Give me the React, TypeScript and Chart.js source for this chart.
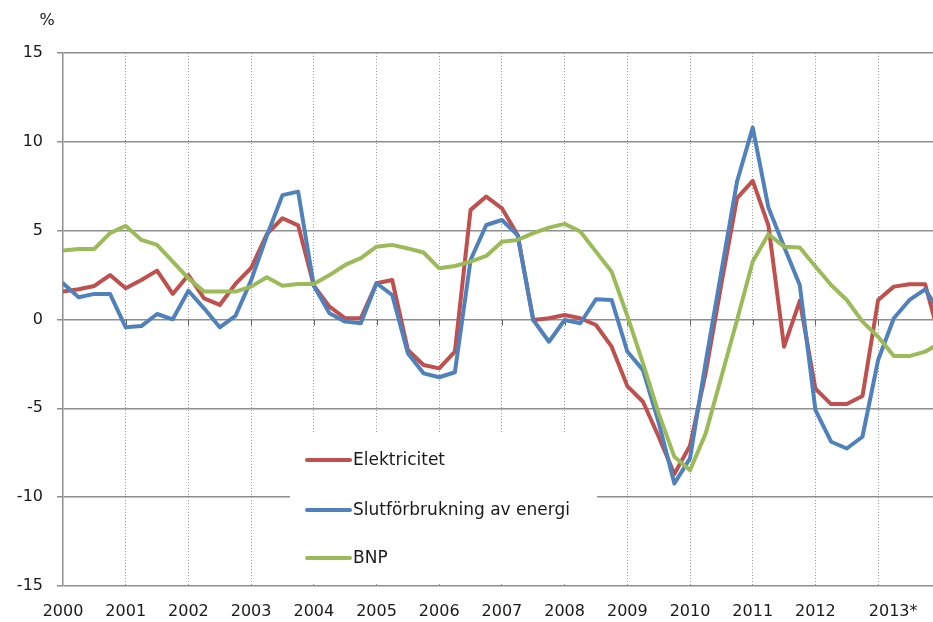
import React, { useEffect, useRef } from "react";
import { Chart, registerables } from "chart.js";

Chart.register(...registerables);

// Quarterly values, 2000Q1 ... 2014Q1 (last point lies beyond the visible edge)
const elektricitet = [
  1.57, 1.7, 1.89, 2.5, 1.76, 2.22, 2.75, 1.44, 2.5, 1.19, 0.82, 2.0,
  2.9, 4.8, 5.7, 5.3, 1.9, 0.72, 0.07, 0.07, 2.04, 2.22, -1.72, -2.56,
  -2.75, -1.81, 6.17, 6.92, 6.26, 4.76, -0.03, 0.07, 0.25, 0.07, -0.31, -1.53,
  -3.75, -4.63, -6.6, -8.7, -7.1, -3.0, 2.0, 6.83, 7.8, 5.3, -1.53, 1.05,
  -3.9, -4.76, -4.76, -4.31, 1.1, 1.85, 1.98, 1.98, -1.3,
];
const slutforbrukning = [
  2.04, 1.25, 1.44, 1.44, -0.44, -0.37, 0.31, 0.01, 1.62, 0.63, -0.44, 0.2,
  2.2, 4.7, 7.0, 7.2, 1.9, 0.35, -0.12, -0.21, 2.04, 1.38, -1.9, -3.03,
  -3.25, -2.97, 3.35, 5.32, 5.6, 4.76, -0.03, -1.25, -0.03, -0.21, 1.14, 1.1,
  -1.8, -2.85, -5.8, -9.23, -7.82, -2.4, 2.7, 7.77, 10.8, 6.3, 4.1, 1.94,
  -5.1, -6.88, -7.26, -6.6, -2.28, 0.07, 1.1, 1.7, 0.3,
];
const bnp = [
  3.88, 3.97, 3.97, 4.86, 5.27, 4.48, 4.2, 3.26, 2.32, 1.57, 1.57, 1.57,
  1.85, 2.38, 1.9, 2.0, 2.0, 2.5, 3.07, 3.45, 4.1, 4.2, 4.0, 3.77,
  2.88, 3.01, 3.26, 3.58, 4.38, 4.48, 4.86, 5.17, 5.38, 4.95, 3.82, 2.69,
  0.2, -2.47, -5.28, -7.73, -8.48, -6.41, -3.22, -0.03, 3.26, 4.8, 4.1, 4.05,
  2.98, 1.94, 1.1, -0.12, -0.97, -2.06, -2.06, -1.81, -1.3,
];
const yearLabels = [
  "2000", "2001", "2002", "2003", "2004", "2005", "2006",
  "2007", "2008", "2009", "2010", "2011", "2012", "2013*",
];
const seriesNames = ["Elektricitet", "Slutförbrukning av energi", "BNP"];
const seriesColors = ["#C0504D", "#4F81BD", "#9BBB59"];

const FONT = '"DejaVu Sans", Verdana, sans-serif';
const TEXT = "#1a1a1a";

const toPoints = (arr: number[]) => arr.map((v, i) => ({ x: i, y: v }));

const decor = {
  id: "decor",
  beforeDatasetsDraw(chart: any) {
    const { ctx, scales } = chart;
    const x = scales.x;
    const y = scales.y;
    ctx.save();
    // small tick marks on the zero line
    const y0 = y.getPixelForValue(0);
    ctx.strokeStyle = "#666";
    ctx.lineWidth = 1;
    yearLabels.forEach((_, k) => {
      if (k === 0) return;
      const px = Math.round(x.getPixelForValue(k * 4)) + 0.5;
      ctx.beginPath();
      ctx.moveTo(px, y0);
      ctx.lineTo(px, y0 + 6);
      ctx.stroke();
    });
    // legend box
    ctx.fillStyle = "#fff";
    ctx.fillRect(290, 433, 307, 149);
    const rows = [460, 510, 558];
    seriesNames.forEach((name, i) => {
      ctx.strokeStyle = seriesColors[i];
      ctx.lineWidth = 4;
      ctx.lineCap = "round";
      ctx.beginPath();
      ctx.moveTo(307, rows[i]);
      ctx.lineTo(350, rows[i]);
      ctx.stroke();
      ctx.fillStyle = TEXT;
      ctx.font = `17px ${FONT}`;
      ctx.textAlign = "left";
      ctx.textBaseline = "middle";
      ctx.fillText(name, 353, rows[i] + 1);
    });
    ctx.restore();
  },
  afterDraw(chart: any) {
    const { ctx, scales } = chart;
    const x = scales.x;
    ctx.save();
    ctx.fillStyle = TEXT;
    ctx.font = `16px ${FONT}`;
    ctx.textAlign = "center";
    ctx.textBaseline = "middle";
    ctx.fillText("%", 47, 21);
    yearLabels.forEach((lab, k) => {
      const px = x.getPixelForValue(k * 4) + (lab.endsWith("*") ? 15 : 0);
      ctx.fillText(lab, px, 612);
    });
    ctx.restore();
  },
};

export default function App() {
  const ref = useRef<HTMLCanvasElement | null>(null);
  useEffect(() => {
    if (!ref.current) return;
    const series = [elektricitet, slutforbrukning, bnp];
    const chart = new Chart(ref.current, {
      type: "line",
      data: {
        datasets: series.map((arr, i) => ({
          label: seriesNames[i],
          data: toPoints(arr),
          borderColor: seriesColors[i],
          backgroundColor: seriesColors[i],
          borderWidth: 4,
          pointRadius: 0,
          tension: 0,
          fill: false,
          borderJoinStyle: "round",
          borderCapStyle: "round",
          order: 3 - i,
        })),
      },
      options: {
        animation: false,
        responsive: false,
        maintainAspectRatio: false,
        layout: { padding: { top: 53, right: 0, bottom: 0, left: 0 } },
        plugins: { legend: { display: false }, tooltip: { enabled: false } },
        scales: {
          x: {
            type: "linear",
            min: 0,
            max: 55.5,
            afterBuildTicks: (s: any) => {
              s.ticks = yearLabels.map((_, k) => ({ value: k * 4 }));
            },
            afterFit: (s: any) => {
              s.height = 36;
            },
            ticks: { display: false },
            grid: {
              color: (c: any) => (c.index === 0 ? "rgba(0,0,0,0)" : "#9a9a9a"),
              lineWidth: 1,
              drawTicks: false,
              tickLength: 0,
            },
            border: { display: false, dash: [1, 2] },
          },
          y: {
            min: -15,
            max: 15,
            afterFit: (s: any) => {
              s.width = 63;
            },
            ticks: {
              stepSize: 5,
              padding: 14,
              color: TEXT,
              font: { family: FONT, size: 16 },
              callback: (v: any) => String(v),
            },
            grid: { color: "#8e8e8e", lineWidth: 1.5, tickLength: 6 },
            border: { display: true, color: "#8e8e8e", width: 1.5 },
          },
        },
      },
      plugins: [decor],
    } as any);
    return () => chart.destroy();
  }, []);
  return (
    <div style={{ position: "fixed", left: 0, top: 0, width: 933, height: 622, background: "#fff" }}>
      <canvas ref={ref} width={933} height={622} style={{ display: "block" }} />
    </div>
  );
}
